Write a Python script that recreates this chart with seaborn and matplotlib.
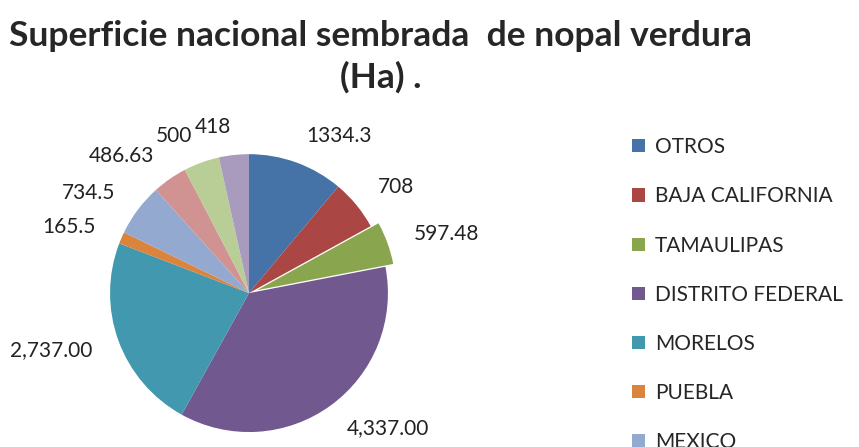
import matplotlib
matplotlib.use("Agg")
import matplotlib.pyplot as plt
import seaborn as sns

# === Data ===
states = ["OTROS", "BAJA CALIFORNIA", "TAMAULIPAS", "DISTRITO FEDERAL",
          "MORELOS", "PUEBLA", "MEXICO"]
hectares = [1334.3, 708, 597.48, 4337.0, 2737.0, 165.5, 734.5, 486.63, 500, 418]
value_labels = ["1334.3", "708", "597.48", "4,337.00", "2,737.00",
                "165.5", "734.5", "486.63", "500", "418"]
explode = [0, 0, 0.06, 0, 0, 0, 0, 0, 0, 0]

colors = sns.color_palette(["#4572A7", "#AA4643", "#89A54E", "#71588F", "#4198AF",
                            "#DB843D", "#93A9CF", "#D19392", "#B9CD96", "#A99BBD"])

sns.set_theme(style="white")
plt.rcParams["font.family"] = ["Lato", "DejaVu Sans"]

fig = plt.figure(figsize=(8.59, 4.47), dpi=100)
ax = fig.add_axes([0.0876, -0.0442, 0.4045, 0.777])

wedges, texts = ax.pie(hectares, labels=value_labels, colors=colors, explode=explode,
                       startangle=90, counterclock=False, labeldistance=1.2,
                       wedgeprops={"linewidth": 0},
                       textprops={"fontsize": 15, "color": "#222222"})

fig.suptitle("Superficie nacional sembrada  de nopal verdura\n(Ha) .",
             x=0.443, y=0.955, fontsize=25.5, fontweight="bold", linespacing=1.35)

fig.legend(wedges[:7], states, loc="upper left", bbox_to_anchor=(0.714, 0.735),
           frameon=False, fontsize=15, labelspacing=1.4, handlelength=0.6,
           handleheight=0.6, handletextpad=0.5)

fig.savefig("out.png", dpi=100)
